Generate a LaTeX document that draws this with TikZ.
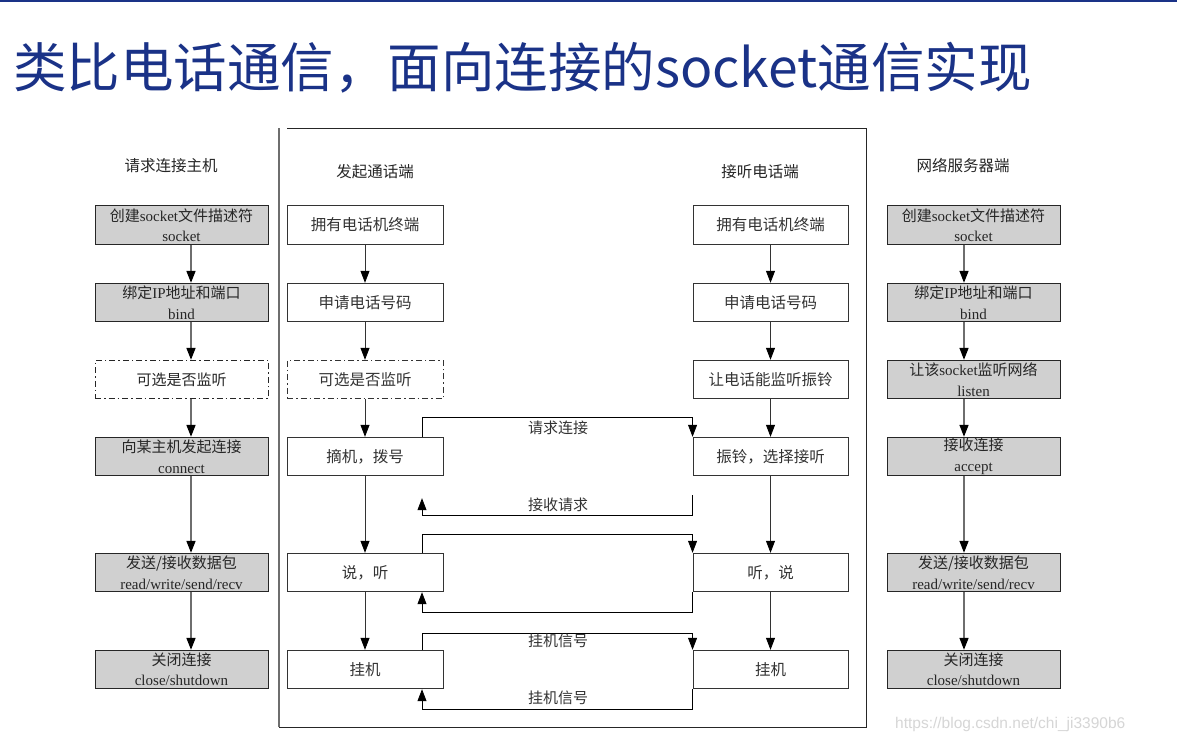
\documentclass[tikz,border=0pt]{standalone}
\usepackage{fontspec}
\setmainfont{Liberation Serif}
\newfontfamily\cjk{Noto Sans CJK SC}
\newfontfamily\wmfont{Liberation Sans}
\usetikzlibrary{arrows.meta,calc}
\definecolor{titleblue}{RGB}{26,50,135}
\definecolor{boxgray}{RGB}{208,208,208}
\definecolor{linegray}{RGB}{110,110,110}
\newcommand\zh[1]{{\cjk #1}}
\tikzset{
  gbox/.style={draw=black!85, line width=0.9pt, fill=boxgray, minimum width=173pt, minimum height=38.5pt, inner sep=0pt, align=center, font=\fontsize{15}{20.5}\selectfont, text=black!85},
  wbox/.style={draw=black!80, line width=0.9pt, fill=white, minimum width=156pt, minimum height=38.5pt, inner sep=0pt, align=center, font=\cjk\fontsize{15.5}{20}\selectfont, text=black!80},
  optbox/.style={dash pattern=on 6pt off 3pt on 1.5pt off 3pt},
  hdr/.style={font=\cjk\fontsize{15.5}{18}\selectfont, text=black!85},
  lbl/.style={font=\cjk\fontsize{15}{18}\selectfont, text=black!80},
  tip/.style={-{Triangle[length=12pt,width=9pt,color=black,fill=black]}},
  garrow/.style={draw=linegray, line width=1.6pt, tip},
  marrow/.style={draw=black!80, line width=0.8pt, tip},
  conn/.style={draw=black, line width=0.8pt, tip},
}
\begin{document}
\begin{tikzpicture}[x=1pt,y=-1pt]
\useasboundingbox (0,0) rectangle (1177,744);
\fill[white] (0,0) rectangle (1177,744);
% top rule and title
\fill[titleblue] (0,0) rectangle (1177,2);
\node[anchor=base west, inner sep=0pt, text=titleblue, font=\cjk\fontsize{53.5}{60}\selectfont] (title) at (13,87) {类比电话通信，面向连接的socket通信实现};
% frame
\draw[black!85, line width=0.9pt] (287,128) -- (866,128) -- (866,727) -- (279,727);
\draw[linegray, line width=1.2pt] (279,128) -- (279,727);
% headers
\node[hdr] (h1) at (171,166) {请求连接主机};
\node[hdr] (h2) at (375,172) {发起通话端};
\node[hdr] (h3) at (760,172) {接听电话端};
\node[hdr] (h4) at (963,166) {网络服务器端};
% left column
\node[gbox] (l1) at (181.5,225) {\zh{创建}socket\zh{文件描述符}\\socket};
\node[gbox] (l2) at (181.5,302.5) {\zh{绑定}IP\zh{地址和端口}\\bind};
\node[gbox,optbox,fill=white] (l3) at (181.5,379.5) {\zh{可选是否监听}};
\node[gbox] (l4) at (181.5,456.5) {\zh{向某主机发起连接}\\connect};
\node[gbox] (l5) at (181.5,572.5) {\zh{发送/接收数据包}\\read/write/send/recv};
\node[gbox] (l6) at (181.5,669.5) {\zh{关闭连接}\\close/shutdown};
\foreach \a/\b in {l1/l2,l2/l3,l3/l4,l4/l5,l5/l6}
  \draw[garrow] ([xshift=9.5pt]\a.south) -- ([xshift=9.5pt]\b.north);
% right column
\node[gbox] (r1) at (973.5,225) {\zh{创建}socket\zh{文件描述符}\\socket};
\node[gbox] (r2) at (973.5,302.5) {\zh{绑定}IP\zh{地址和端口}\\bind};
\node[gbox] (r3) at (973.5,379.5) {\zh{让该}socket\zh{监听网络}\\listen};
\node[gbox] (r4) at (973.5,456.5) {\zh{接收连接}\\accept};
\node[gbox] (r5) at (973.5,572.5) {\zh{发送/接收数据包}\\read/write/send/recv};
\node[gbox] (r6) at (973.5,669.5) {\zh{关闭连接}\\close/shutdown};
\foreach \a/\b in {r1/r2,r2/r3,r3/r4,r4/r5,r5/r6}
  \draw[garrow] ([xshift=-9.5pt]\a.south) -- ([xshift=-9.5pt]\b.north);
% middle left
\node[wbox] (a1) at (365,225) {拥有电话机终端};
\node[wbox] (a2) at (365,302.5) {申请电话号码};
\node[wbox,optbox] (a3) at (365,379.5) {可选是否监听};
\node[wbox] (a4) at (365,456.5) {摘机，拨号};
\node[wbox] (a5) at (365,572.5) {说，听};
\node[wbox] (a6) at (365,669.5) {挂机};
% middle right
\node[wbox,minimum width=155pt] (b1) at (770.5,225) {拥有电话机终端};
\node[wbox,minimum width=155pt] (b2) at (770.5,302.5) {申请电话号码};
\node[wbox,minimum width=155pt] (b3) at (770.5,379.5) {让电话能监听振铃};
\node[wbox,minimum width=155pt] (b4) at (770.5,456.5) {振铃，选择接听};
\node[wbox,minimum width=155pt] (b5) at (770.5,572.5) {听，说};
\node[wbox,minimum width=155pt] (b6) at (770.5,669.5) {挂机};
\foreach \a/\b in {a1/a2,a2/a3,a3/a4,a4/a5,a5/a6,b1/b2,b2/b3,b3/b4,b4/b5,b5/b6}
  \draw[marrow] (\a.south) -- (\b.north);
% cross connectors
\draw[conn] ([xshift=57pt]a4.north) -- ++(0,-19) -| (b4.north west);
\node[lbl] (t1) at (558,428) {请求连接};
\draw[conn] ([yshift=-19pt]b4.south west) -- ++(0,20) -| ([xshift=57pt,yshift=-22pt]a4.south);
\node[lbl] (t2) at (558,505) {接收请求};
\draw[conn] ([xshift=57pt]a5.north) -- ++(0,-18) -| (b5.north west);
\draw[conn] (b5.south west) -- ++(0,20) -| ([xshift=57pt]a5.south);
\draw[conn] ([xshift=57pt]a6.north) -- ++(0,-16) -| (b6.north west);
\node[lbl] (t3) at (558,641) {挂机信号};
\draw[conn] (b6.south west) -- ++(0,20) -| ([xshift=57pt]a6.south);
\node[lbl] (t4) at (558,698) {挂机信号};
% watermark
\node[anchor=west, inner sep=0pt, text=black!16, font=\wmfont\fontsize{15.5}{16}\selectfont] (wm) at (895,724) {https://blog.csdn.net/chi\_ji3390b6};
\end{tikzpicture}
\end{document}
